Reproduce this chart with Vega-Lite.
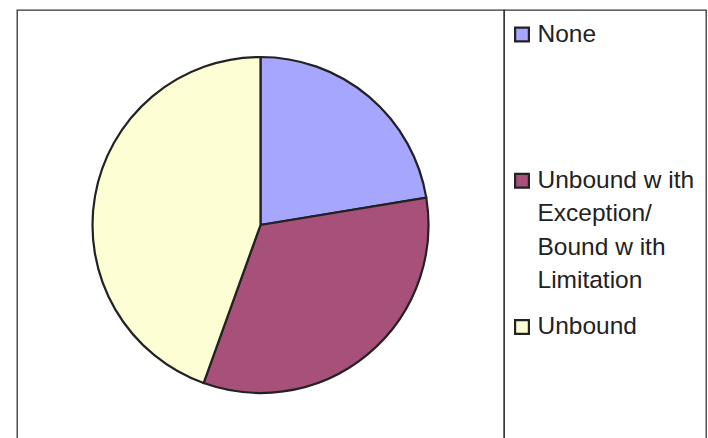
{
  "$schema": "https://vega.github.io/schema/vega-lite/v6.json",
  "padding": {"left": 16, "top": 9, "right": 0, "bottom": 0},
  "background": "white",
  "bounds": "flush",
  "config": {"view": {"stroke": "#333333", "strokeWidth": 1.3}, "font": "Liberation Sans"},
  "data": {"values": [
    {"category": "None", "label": "None", "share": 22.4, "rank": 1},
    {"category": "Unbound with Exception/Bound with Limitation", "label": "Unbound w ith\nException/\nBound w ith\nLimitation", "share": 33.1, "rank": 2},
    {"category": "Unbound", "label": "Unbound", "share": 44.5, "rank": 3}
  ]},
  "spacing": 0,
  "hconcat": [
    {
      "width": 487,
      "height": 430,
      "view": {"stroke": "#333333", "strokeWidth": 1.3},
      "mark": {"type": "arc", "outerRadius": 168, "stroke": "#222222", "strokeWidth": 2.2},
      "encoding": {
        "theta": {"field": "share", "type": "quantitative", "stack": true},
        "color": {
          "field": "category",
          "type": "nominal",
          "scale": {
            "domain": ["None", "Unbound with Exception/Bound with Limitation", "Unbound"],
            "range": ["#A6A6FF", "#A6507A", "#FEFED4"]
          },
          "legend": null
        },
        "order": {"field": "rank", "type": "quantitative"}
      }
    },
    {
      "width": 202,
      "height": 430,
      "encoding": {
        "y": {
          "field": "category",
          "type": "nominal",
          "sort": ["None", "Unbound with Exception/Bound with Limitation", "Unbound"],
          "scale": {"type": "point", "padding": 0.47, "align": 0},
          "axis": null
        }
      },
      "layer": [
        {
          "mark": {"type": "point", "shape": "square", "filled": true, "size": 190, "stroke": "#222222", "strokeWidth": 2.2, "opacity": 1, "xOffset": -83, "yOffset": 24.5},
          "encoding": {"color": {"field": "category", "type": "nominal", "legend": null}}
        },
        {
          "mark": {"type": "text", "align": "left", "baseline": "top", "fontSize": 24.5, "lineHeight": 33.5, "lineBreak": "\n", "color": "#222222", "dx": -67.5, "dy": 12.5},
          "encoding": {"text": {"field": "label", "type": "nominal"}}
        }
      ]
    }
  ]
}
